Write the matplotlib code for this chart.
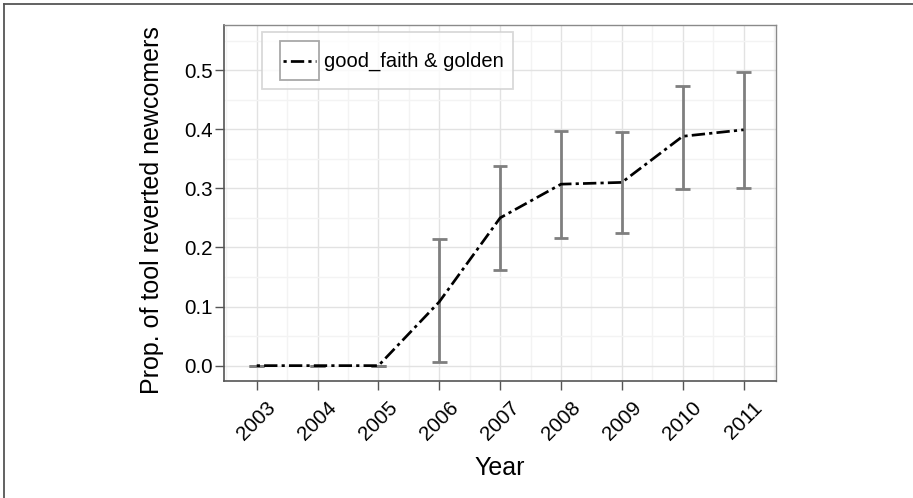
import matplotlib
matplotlib.use("Agg")
import matplotlib.pyplot as plt
from matplotlib.legend_handler import HandlerBase
from matplotlib.patches import Rectangle
from matplotlib.lines import Line2D
from matplotlib.ticker import MultipleLocator
import numpy as np

plt.rcParams['font.family'] = ['Liberation Sans', 'DejaVu Sans']
plt.rcParams['lines.scale_dashes'] = False

years = [2003, 2004, 2005, 2006, 2007, 2008, 2009, 2010, 2011]
prop = [0.0, 0.0, 0.0, 0.108, 0.250, 0.307, 0.310, 0.388, 0.399]
err_low = [0.0, 0.0, 0.0, 0.006, 0.161, 0.216, 0.224, 0.298, 0.301]
err_high = [0.0, 0.0, 0.0, 0.215, 0.338, 0.397, 0.395, 0.473, 0.497]
yticks = [0.0, 0.1, 0.2, 0.3, 0.4, 0.5]
series_label = "good_faith & golden"

W, H = 913, 498
fig = plt.figure(figsize=(W / 100, H / 100), dpi=100)
L, R, T, B = 224, 776, 25, 381
ax = fig.add_axes([L / W, 1 - B / H, (R - L) / W, (B - T) / H])

xs = np.array(years, dtype=float)
lo = np.array(err_low)
hi = np.array(err_high)
ecol = '#7f7f7f'
ax.vlines(xs, lo, hi, color=ecol, lw=2.0, zorder=3)
ax.hlines(lo, xs - 0.12, xs + 0.12, color=ecol, lw=2.0, zorder=3)
ax.hlines(hi, xs - 0.12, xs + 0.12, color=ecol, lw=2.0, zorder=3)

dash = [2.3, 3.0, 9.6, 3.0]
line, = ax.plot(years, prop, color='black', lw=1.95, zorder=4,
                dashes=dash, label=series_label, solid_capstyle='butt',
                dash_capstyle='butt')

ax.set_xlim(2002.462, 2011.533)
ax.set_ylim(-0.026, 0.5763)
ax.set_xticks(years)
ax.set_xticklabels([str(y) for y in years])
ax.set_yticks(yticks)
ax.set_yticklabels([f"{v:.1f}" for v in yticks])
ax.xaxis.set_minor_locator(MultipleLocator(0.5))
ax.yaxis.set_minor_locator(MultipleLocator(0.05))
ax.grid(which='major', color='#e2e2e2', lw=1.0, zorder=0)
ax.grid(which='minor', color='#f3f3f3', lw=1.0, zorder=0)
ax.set_axisbelow(True)
ax.tick_params(which='minor', length=0)
ax.tick_params(which='major', length=6.5, width=1.0, color='#555555',
               labelsize=14.8, labelcolor='black')
ax.tick_params(axis='y', pad=1.5)
ax.tick_params(axis='x', pad=6)
for lab in ax.get_xticklabels():
    lab.set_rotation(45)
    lab.set_ha('center')
    lab.set_va('top')
for side in ['top', 'right']:
    ax.spines[side].set_color('#8a8a8a')
    ax.spines[side].set_linewidth(1.0)
for side in ['left', 'bottom']:
    ax.spines[side].set_color('#555555')
    ax.spines[side].set_linewidth(1.2)

ax.set_ylabel("Prop. of tool reverted newcomers", fontsize=18, va='center')
ax.yaxis.set_label_coords(-0.130, 0.48)
ax.set_xlabel("Year", fontsize=18, va='center')
ax.xaxis.set_label_coords(0.5, -0.244)

LEG_FS = 14.5
BOX_PT = 28.0      # key box side (points)
LEFT_PT = 6.5      # extra space left of key box


class BoxedHandler(HandlerBase):
    def create_artists(self, legend, orig_handle, xdescent, ydescent,
                       width, height, fontsize, trans):
        x1 = -xdescent + width
        x0 = x1 - BOX_PT
        y0 = -ydescent
        rect = Rectangle((x0, y0), BOX_PT, height, facecolor='white',
                         edgecolor='#a8a8a8', lw=1.3, transform=trans)
        yc = y0 + height / 2
        pad = 2.2
        legline = Line2D([x0 + pad, x1 - pad], [yc, yc])
        self.update_prop(legline, orig_handle, legend)
        legline.set_transform(trans)
        return [rect, legline]


hl = (BOX_PT + LEFT_PT) / LEG_FS
hh = (BOX_PT / LEG_FS - 0.245) / 0.65
leg = ax.legend(handles=[line], loc='upper left',
                bbox_to_anchor=((262 - L) / (R - L), 1 - (32 - T) / (B - T)),
                borderaxespad=0, fontsize=LEG_FS, handlelength=hl,
                handleheight=hh, handletextpad=0.25, borderpad=0.45,
                frameon=True, fancybox=False,
                handler_map={line: BoxedHandler()})
leg.get_frame().set_edgecolor('#d0d0d0')
leg.get_frame().set_linewidth(1.3)
leg.get_frame().set_facecolor('white')

# figure border (left and top)
fig.add_artist(Line2D([4 / W, 4 / W], [0, 1 - 4 / H], transform=fig.transFigure,
                      color='#555555', lw=1.3))
fig.add_artist(Line2D([4 / W, 1], [1 - 4 / H, 1 - 4 / H], transform=fig.transFigure,
                      color='#555555', lw=1.3))

fig.savefig("out.png", dpi=100)
